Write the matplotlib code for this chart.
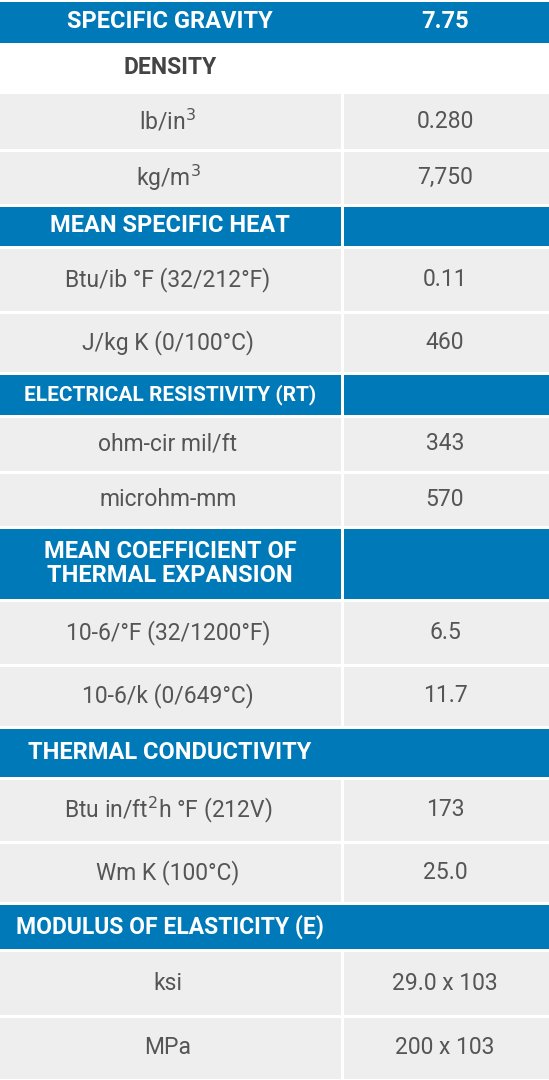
import matplotlib
matplotlib.use("Agg")
import matplotlib.pyplot as plt
from matplotlib.patches import Rectangle

plt.rcParams["font.family"] = ["Roboto", "DejaVu Sans"]

BLUE = "#0079b8"
GRAY = "#eeeeee"
TEXT = "#555555"

# property table: (label, value, kind)  kind: head / sub / row
labels = [
    "SPECIFIC GRAVITY", "DENSITY", "lb/in$^3$", "kg/m$^3$",
    "MEAN SPECIFIC HEAT", "Btu/ib °F (32/212°F)", "J/kg K (0/100°C)",
    "ELECTRICAL RESISTIVITY (RT)", "ohm-cir mil/ft", "microhm-mm",
    "MEAN COEFFICIENT OF\nTHERMAL EXPANSION", "10-6/°F (32/1200°F)", "10-6/k (0/649°C)",
    "THERMAL CONDUCTIVITY", "Btu in/ft$^2$h °F (212V)", "Wm K (100°C)",
    "MODULUS OF ELASTICITY (E)", "ksi", "MPa",
]
values = [
    "7.75", "", "0.280", "7,750",
    "", "0.11", "460",
    "", "343", "570",
    "", "6.5", "11.7",
    "", "173", "25.0",
    "", "29.0 x 103", "200 x 103",
]
kinds = [
    "head", "sub", "row", "row",
    "head", "row", "row",
    "head", "row", "row",
    "head", "row", "row",
    "head", "row", "row",
    "head", "row", "row",
]
# row edges in pixels (top of each row, last = bottom)
edges = [0, 44, 92, 150, 205, 247, 312, 373, 416, 472, 527, 600, 665, 727, 778, 842, 903, 950, 1016, 1080]
divider = [False, False, True, True, True, True, True, True, True, True, True, True, True,
           False, True, True, False, True, True]
head_size = [17, 16.5, 0, 0, 17, 0, 0, 15, 0, 0, 17, 0, 0, 17, 0, 0, 16.5, 0, 0]

W, H = 549, 1080
SPLIT = 342
fig = plt.figure(figsize=(W / 100, H / 100), dpi=100)
ax = fig.add_axes([0, 0, 1, 1])
ax.set_xlim(0, W)
ax.set_ylim(H, 0)
ax.axis("off")

for i, (lab, val, kind) in enumerate(zip(labels, values, kinds)):
    top, bot = edges[i], edges[i + 1]
    g = 1.5
    if kind == "sub":
        color = "white"
    elif kind == "head":
        color = BLUE
    else:
        color = GRAY
    if divider[i]:
        ax.add_patch(Rectangle((0, top + g), SPLIT - 1.5, bot - top - 2 * g, color=color, lw=0))
        ax.add_patch(Rectangle((SPLIT + 1.5, top + g), W - SPLIT, bot - top - 2 * g, color=color, lw=0))
    else:
        ax.add_patch(Rectangle((0, top + g), W, bot - top - 2 * g, color=color, lw=0))
    yc = (top + bot) / 2
    if kind == "row":
        ax.text(168, yc, lab, ha="center", va="center", fontsize=16.5, color=TEXT)
        ax.text(445, yc, val, ha="center", va="center", fontsize=16.5, color=TEXT)
    else:
        tc = "white" if kind == "head" else "#444444"
        ax.text(170, yc, lab, ha="center", va="center", fontsize=head_size[i], color=tc,
                fontweight="bold", linespacing=1.05)
        if val:
            ax.text(445, yc, val, ha="center", va="center", fontsize=17, color=tc, fontweight="bold")

fig.savefig("out.png", dpi=100)
